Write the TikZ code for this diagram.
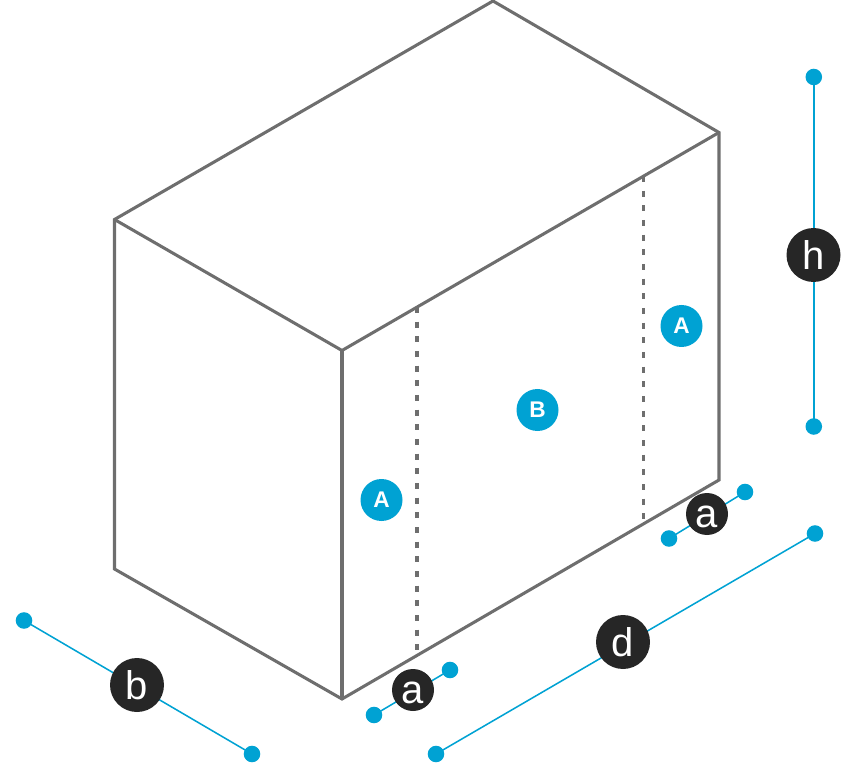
\documentclass[tikz,border=0pt]{standalone}
\usepackage{fontspec}
\setmainfont{Liberation Sans}
\definecolor{edgegray}{HTML}{6E6E6E}
\definecolor{dimblue}{HTML}{00A2D3}
\definecolor{badgedark}{HTML}{262626}
\newcommand{\lowered}[1]{\raisebox{-2.2pt}[\height][\depth]{#1}}
\tikzset{
  boxedge/.style={draw=edgegray,line width=2.3pt,line join=miter},
  foldline/.style={draw=edgegray,line width=2.7pt,dash pattern=on 4.5pt off 6.5pt},
  dimline/.style={draw=dimblue,line width=1.15pt,shorten <=-1.5pt,shorten >=-1.5pt},
  enddot/.style={circle,fill=dimblue,draw=none,minimum size=12.4pt,inner sep=0pt},
  panelbadge/.style={circle,fill=dimblue,draw=none,minimum size=31.5pt,inner sep=0pt,text=white,font=\fontsize{17}{17}\selectfont\bfseries},
  sizebadge/.style={circle,fill=badgedark,draw=none,minimum size=31.5pt,inner sep=0pt,text=white,font=\fontsize{30}{30}\selectfont},
  bigbadge/.style={sizebadge,minimum size=40.5pt,font=\fontsize{30}{30}\selectfont},
}
\begin{document}
\begin{tikzpicture}[x=0.75pt,y=-0.75pt]
\useasboundingbox (0,0) rectangle (843,777);
% box corners
\coordinate (top) at (493,1);
\coordinate (right) at (719,132.5);
\coordinate (front) at (342,350.5);
\coordinate (left) at (114.5,219.5);
\coordinate (frontb) at (342,699);
\coordinate (leftb) at (114.5,569);
\coordinate (rightb) at (719,480);
\coordinate (f1t) at (416.8,307);
\coordinate (f1b) at (416.8,653);
\coordinate (f2t) at (643.5,176);
\coordinate (f2b) at (643.5,523);
\draw[boxedge] (left) -- (top) -- (right) -- (rightb) -- (frontb) -- (leftb) -- cycle;
\draw[boxedge] (left) -- (front) -- (right);
\draw[boxedge] (front) -- (frontb);
\draw[foldline] (f1t) -- (f1b);
\draw[foldline] (f2t) -- (f2b);
% dimension ends
\node[enddot] (a1s) at (374,715) {};
\node[enddot] (a1e) at (450,670) {};
\node[enddot] (a2s) at (669,538.5) {};
\node[enddot] (a2e) at (745,492) {};
\node[enddot] (hs) at (813.8,77) {};
\node[enddot] (he) at (813.8,426.5) {};
\node[enddot] (ds) at (436,754) {};
\node[enddot] (de) at (815,533.5) {};
\node[enddot] (bs) at (24,620.5) {};
\node[enddot] (be) at (252,754) {};
\draw[dimline] (a1s) -- (a1e);
\draw[dimline] (a2s) -- (a2e);
\draw[dimline,line width=1.4pt] (hs) -- (he);
\draw[dimline] (ds) -- (de);
\draw[dimline] (bs) -- (be);
% badges
\node[panelbadge] (pa1) at (381.5,500) {A};
\node[panelbadge] (pa2) at (681.5,326) {A};
\node[panelbadge] (pb) at (537.5,410) {B};
\node[sizebadge] (sa1) at (413,690) {\lowered{a}};
\node[sizebadge] (sa2) at (707,514) {\lowered{a}};
\node[bigbadge] (sh) at (813.5,255) {h};
\node[bigbadge] (sd) at (623,642) {d};
\node[bigbadge] (sb) at (137,685) {b};
\end{tikzpicture}
\end{document}
